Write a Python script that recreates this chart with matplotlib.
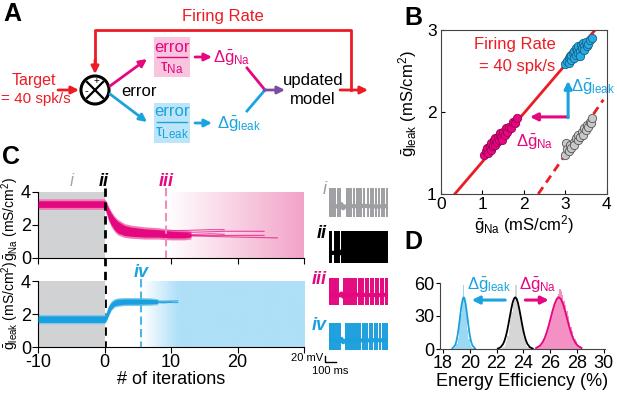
import numpy as np
import matplotlib
matplotlib.use('Agg')
import matplotlib.pyplot as plt
from matplotlib import font_manager
from matplotlib.colors import LinearSegmentedColormap
from matplotlib.patches import Rectangle, Circle

names = {f.name for f in font_manager.fontManager.ttflist}
FONT = 'Liberation Sans Narrow' if 'Liberation Sans Narrow' in names else 'Liberation Sans'
plt.rcParams['font.family'] = [FONT, 'DejaVu Sans']
plt.rcParams['mathtext.fontset'] = 'custom'
plt.rcParams['mathtext.rm'] = FONT
plt.rcParams['mathtext.it'] = FONT + ':italic'
plt.rcParams['mathtext.default'] = 'regular'

MAG = '#e5077f'
CYAN = '#1aa3df'
RED = '#ec1c24'
PURPLE = '#7b4f9e'
GREY = '#a7a9ac'

# ---- panel B: conductance clouds (gNa, gleak) ----
na_x = [1.05, 1.1, 1.12, 1.15, 1.18, 1.2, 1.22, 1.25, 1.28, 1.3, 1.32, 1.35, 1.38, 1.4,
        1.42, 1.45, 1.48, 1.5, 1.55, 1.58, 1.6, 1.65, 1.7, 1.75, 1.8, 1.85]
na_y = [1.48, 1.52, 1.56, 1.5, 1.58, 1.54, 1.62, 1.58, 1.66, 1.6, 1.68, 1.64, 1.7, 1.66,
        1.74, 1.7, 1.66, 1.76, 1.72, 1.8, 1.76, 1.82, 1.8, 1.88, 1.86, 1.93]
leak_x = [3.0, 3.05, 3.08, 3.1, 3.12, 3.15, 3.15, 3.18, 3.2, 3.22, 3.25, 3.25, 3.28, 3.3,
          3.32, 3.35, 3.35, 3.38, 3.4, 3.42, 3.45, 3.45, 3.5, 3.52, 3.55, 3.6, 3.65]
leak_y = [2.58, 2.62, 2.66, 2.6, 2.68, 2.64, 2.7, 2.72, 2.66, 2.74, 2.7, 2.78, 2.76, 2.72,
          2.8, 2.75, 2.68, 2.82, 2.78, 2.84, 2.8, 2.76, 2.85, 2.8, 2.83, 2.88, 2.9]
start_x = [3.0, 3.02, 3.05, 3.1, 3.12, 3.15, 3.2, 3.22, 3.25, 3.3, 3.32, 3.35, 3.4, 3.42,
           3.45, 3.5, 3.52, 3.55, 3.6, 3.62, 3.65]
start_y = [1.48, 1.62, 1.55, 1.52, 1.6, 1.56, 1.64, 1.6, 1.68, 1.66, 1.72, 1.7, 1.76, 1.72,
           1.8, 1.78, 1.84, 1.82, 1.88, 1.86, 1.93]
fr_x = [0.34, 3.72]
fr_y = [1.0, 3.0]
fr0_x = [2.35, 3.92]
fr0_y = [1.0, 2.15]

# ---- panel C: conductance vs iteration ----
it_na = [-10, 0, 0.3, 0.6, 1, 1.5, 2, 3, 4, 6, 8, 10, 12, 13]
na_lo = [3.05, 3.05, 2.75, 2.35, 2.0, 1.7, 1.5, 1.35, 1.3, 1.25, 1.25, 1.2, 1.2, 1.25]
na_hi = [3.45, 3.45, 3.3, 3.0, 2.7, 2.4, 2.2, 1.95, 1.85, 1.75, 1.7, 1.6, 1.55, 1.5]
na_tails = [([10, 14, 18, 24], [1.5, 1.55, 1.6, 1.6]),
            ([10, 15, 20, 26], [1.35, 1.3, 1.25, 1.2]),
            ([10, 14, 18, 24], [1.3, 1.35, 1.35, 1.35]),
            ([8, 12, 16, 18], [1.6, 1.65, 1.7, 1.7]),
            ([10, 13, 16, 18], [1.45, 1.4, 1.45, 1.42])]
it_leak = [-10, 0, 0.3, 0.6, 1, 1.5, 2, 3, 5, 7, 8]
leak_lo = [1.5, 1.5, 1.65, 1.95, 2.3, 2.5, 2.55, 2.6, 2.6, 2.62, 2.65]
leak_hi = [1.9, 1.9, 2.1, 2.45, 2.7, 2.85, 2.9, 2.92, 2.92, 2.9, 2.85]
leak_tails = [([7, 9, 11], [2.75, 2.72, 2.7]),
              ([7, 9, 11], [2.8, 2.78, 2.8]),
              ([7, 9, 10], [2.7, 2.68, 2.72])]
it_ticks = [-10, 0, 10, 20, 30]
it_ticklabels = ['-10', '0', '10', '20', '']

# ---- example voltage traces (spike times, ms) ----
spikes_i = [8, 22, 40, 55, 75, 92, 150, 170, 190, 212, 235, 255, 275, 300, 330, 352, 375,
            398, 420, 445, 470, 492]
spikes_ii = [4, 12, 20, 52, 60, 68, 76, 84, 110, 118, 126, 134, 142, 150, 158, 166, 174,
             182, 190, 198, 206, 214, 222, 230, 238, 246, 254, 262, 270, 278, 286, 294,
             302, 310, 318, 326, 334, 342, 350, 358, 366, 374, 382, 390, 398, 406, 414,
             422, 430, 438, 446, 454, 462, 470, 478, 486, 494]
spikes_iii = [5, 20, 35, 48, 62, 80, 130, 145, 160, 178, 195, 215, 232, 250, 268, 290, 310,
              330, 355, 375, 395, 415, 438, 460, 480, 495]
spikes_iv = [5, 18, 32, 46, 60, 75, 92, 140, 158, 175, 192, 210, 228, 246, 265, 285, 305,
             325, 348, 368, 390, 410, 432, 455, 475, 495]
base_t = [0, 50, 90, 105, 120, 135, 200, 300, 400, 500]
base_i = [-40, -38, -42, -32, -46, -40, -39, -38, -40, -39]
base_ii = [-45, -44, -46, -40, -48, -45, -44, -45, -44, -45]
base_iii = [-40, -39, -41, -34, -45, -40, -38, -39, -40, -38]
base_iv = [-42, -40, -43, -35, -47, -42, -40, -41, -40, -41]

# ---- panel D: energy efficiency histograms (%) ----
bins_leak = np.round(np.arange(18.8, 20.35, 0.1), 2)
cnt_leak = [1, 2, 5, 10, 20, 32, 46, 58, 44, 30, 17, 9, 4, 2, 1, 1]
bins_ctrl = np.round(np.arange(22.4, 24.45, 0.1), 2)
cnt_ctrl = [1, 2, 4, 7, 12, 18, 26, 34, 41, 46, 58, 45, 40, 33, 25, 17, 11, 6, 3, 2, 1]
bins_na = np.round(np.arange(25.0, 28.35, 0.1), 2)
cnt_na = [1, 2, 3, 4, 6, 9, 12, 15, 19, 24, 28, 33, 37, 41, 44, 48, 50, 55, 53, 49, 44, 40,
          35, 30, 25, 20, 16, 12, 9, 7, 5, 3, 3, 2]
fit_leak_x = [18.7, 18.9, 19.0, 19.1, 19.2, 19.3, 19.4, 19.5, 19.55, 19.6, 19.7, 19.8, 19.9,
              20.0, 20.1, 20.2, 20.4]
fit_leak_y = [0.5, 3.2, 6.8, 12.9, 21.5, 31.5, 40.7, 46.3, 47, 46.3, 40.7, 31.5, 21.5, 12.9,
              6.8, 3.2, 0.5]
fit_ctrl_x = [22.1, 22.3, 22.5, 22.6, 22.7, 22.8, 22.9, 23.0, 23.1, 23.2, 23.3, 23.4, 23.5,
              23.6, 23.7, 23.8, 23.9, 24.0, 24.1, 24.2, 24.3, 24.5, 24.7]
fit_ctrl_y = [0.4, 1.5, 4.7, 7.7, 11.7, 16.9, 23.1, 29.9, 36.4, 42.0, 45.7, 47, 45.7, 42.0,
              36.4, 29.9, 23.1, 16.9, 11.7, 7.7, 4.7, 1.5, 0.4]
fit_na_x = [24.95, 25.25, 25.45, 25.6, 25.75, 25.9, 26.05, 26.2, 26.35, 26.5, 26.65, 26.8,
            26.95, 27.1, 27.25, 27.4, 27.55, 27.7, 27.85, 28.05, 28.35]
fit_na_y = [0.85, 3.1, 6.4, 10.2, 15.3, 21.5, 28.5, 35.5, 41.5, 45.6, 47, 45.6, 41.5, 35.5,
            28.5, 21.5, 15.3, 10.2, 6.4, 3.1, 0.85]

W, H = 617, 393
fig = plt.figure(figsize=(W / 100, H / 100), dpi=100)


def px_axes(l, t, r, b):
    return fig.add_axes([l / W, 1 - b / H, (r - l) / W, (b - t) / H])


# overlay in pixel coordinates for the schematic and panel letters
ov = fig.add_axes([0, 0, 1, 1])
ov.set_xlim(0, W)
ov.set_ylim(H, 0)
ov.axis('off')

for lab, x, y in [('A', 3, 14), ('B', 404, 18), ('C', 2, 157), ('D', 404, 242)]:
    ov.text(x, y, lab, fontsize=18, fontweight='bold', va='center', ha='left')


def arrow(p0, p1, c, lw=2):
    ov.annotate('', xy=p1, xytext=p0,
                arrowprops=dict(arrowstyle='-|>', color=c, lw=lw, mutation_scale=11,
                                shrinkA=0, shrinkB=0))


# panel A schematic
ov.text(223, 17, 'Firing Rate', color=RED, fontsize=12, ha='center', va='center')
ov.plot([95, 95, 351, 351], [62, 30, 30, 90], color=RED, lw=2)
arrow((95, 60), (95, 74), RED)
arrow((340, 90), (368, 90), RED)
ov.text(34, 81, 'Target', color=RED, fontsize=11.5, ha='center', va='center')
ov.text(1, 99, '= 40 spk/s', color=RED, fontsize=11, ha='left', va='center')
arrow((58, 90), (79, 90), RED)
ov.add_patch(Circle((95, 90), 14, fill=False, ec='k', lw=2.2))
ov.plot([87, 103], [82, 98], color='k', lw=1.6)
ov.plot([87, 103], [98, 82], color='k', lw=1.6)
ov.text(96, 81, '+', fontsize=7, ha='center', va='center')
ov.text(86, 91, '-', fontsize=8, ha='center', va='center')
ov.text(121, 91, 'error', fontsize=12, ha='left', va='center')
arrow((110, 86), (147, 59), MAG)
arrow((110, 94), (147, 122), CYAN)
ov.add_patch(Rectangle((154, 37), 36, 40, color='#f9c5de', lw=0))
ov.text(172, 47, 'error', color=MAG, fontsize=12, ha='center', va='center')
ov.plot([157, 187], [57, 57], color=MAG, lw=1)
ov.text(172, 68, r'$τ_{Na}$', color=MAG, fontsize=12, ha='center', va='center')
ov.add_patch(Rectangle((154, 103), 36, 40, color='#bde5f8', lw=0))
ov.text(172, 112, 'error', color=CYAN, fontsize=12, ha='center', va='center')
ov.plot([157, 187], [122, 122], color=CYAN, lw=1)
ov.text(172, 133, r'$τ_{Leak}$', color=CYAN, fontsize=12, ha='center', va='center')
arrow((195, 57), (212, 57), MAG)
arrow((195, 123), (212, 123), CYAN)
ov.text(213, 58, r'$\Delta\bar{g}_{Na}$', color=MAG, fontsize=12, ha='left', va='center')
ov.text(217, 124, r'$\Delta\bar{g}_{leak}$', color=CYAN, fontsize=12, ha='left', va='center')
ov.plot([247, 265], [68, 90], color=MAG, lw=2)
ov.plot([247, 265], [111, 90], color=CYAN, lw=2)
arrow((264, 90), (285, 90), PURPLE)
ov.text(313, 80, 'updated', fontsize=12, ha='center', va='center')
ov.text(313, 100, 'model', fontsize=12, ha='center', va='center')

# panel B
axb = px_axes(440.7, 30, 606.7, 194)
axb.set_facecolor('none')
axb.plot(fr_x, fr_y, color=RED, lw=2, zorder=1)
axb.plot(fr0_x, fr0_y, color=RED, lw=2, ls=(0, (3, 2)), zorder=1)
axb.scatter(na_x, na_y, s=36, c=MAG, edgecolors='#9c0052', linewidths=0.6, zorder=3)
axb.scatter(leak_x, leak_y, s=36, c='#29abe2', edgecolors='#14628a', linewidths=0.6, zorder=3)
axb.scatter(start_x, start_y, s=36, c='#c8c8c8', edgecolors='#555555', linewidths=0.6, zorder=3)
axb.annotate('', xy=(2.15, 1.94), xytext=(3.07, 1.94),
             arrowprops=dict(arrowstyle='-|>', color=MAG, lw=2.2, mutation_scale=11,
                             shrinkA=0, shrinkB=0))
axb.annotate('', xy=(3.07, 2.38), xytext=(3.07, 1.93),
             arrowprops=dict(arrowstyle='-|>', color=CYAN, lw=2.2, mutation_scale=11,
                             shrinkA=0, shrinkB=0))
axb.text(3.13, 2.3, r'$\Delta\bar{g}_{leak}$', color=CYAN, fontsize=12, va='center')
axb.text(2.27, 1.63, r'$\Delta\bar{g}_{Na}$', color=MAG, fontsize=12, ha='center', va='center')
axb.text(1.79, 2.82, 'Firing Rate', color=RED, fontsize=12, ha='center', va='center')
axb.text(1.84, 2.55, '= 40 spk/s', color=RED, fontsize=12, ha='center', va='center')
axb.set_xlim(0, 4)
axb.set_ylim(1, 3)
axb.set_xticks([0, 1, 2, 3, 4])
axb.set_yticks([1, 2, 3])
axb.tick_params(direction='in', length=3, labelsize=12.5, pad=2)
axb.tick_params(axis='y', pad=3)
for s in axb.spines.values():
    s.set_color('#444444')
axb.set_xlabel(r'$\bar{g}_{Na}$ (mS/cm$^2$)', fontsize=12, labelpad=1)
axb.set_ylabel(r'$\bar{g}_{leak}$ (mS/cm$^2$)', fontsize=12, labelpad=2)
axb.yaxis.set_label_coords(-0.13, 0.55)

# panel C
pink_cm = LinearSegmentedColormap.from_list('pk', ['#ffffff', '#f2a3c8'])
blue_cm = LinearSegmentedColormap.from_list('bl', ['#ffffff', '#aee0f7'])
ramp = np.linspace(0, 1, 256)[None, :]
blue_ramp = np.clip(np.linspace(0, 1, 256) * 4.5, 0, 1)[None, :]

axc1 = px_axes(38, 191.7, 304, 257.7)
axc2 = px_axes(38, 281, 304, 347.3)
for ax in (axc1, axc2):
    ax.set_facecolor('none')
    ax.add_patch(Rectangle((-10, 0), 10, 4, color='#d1d2d4', lw=0, zorder=0))
    ax.set_xlim(-10, 30)
    ax.set_ylim(0, 4)
    ax.set_xticks(it_ticks)
    ax.set_yticks([0, 2, 4])
    ax.tick_params(direction='out', length=4, labelsize=13, pad=1)
    ax.spines['top'].set_visible(False)
    ax.spines['right'].set_visible(False)

axc1.imshow(ramp, cmap=pink_cm, extent=[9.3, 30, 0, 4], aspect='auto', zorder=0)
axc2.imshow(blue_ramp, cmap=blue_cm, extent=[5.6, 30, 0, 4], aspect='auto', zorder=0)

axc1.fill_between(it_na, np.array(na_lo) - 0.12, np.array(na_hi) + 0.12, color='#f07ab4',
                  lw=0, zorder=2)
axc1.fill_between(it_na, na_lo, na_hi, color=MAG, lw=0, zorder=3)
for tx, ty in na_tails:
    axc1.plot(tx, ty, color=MAG, lw=0.8, alpha=0.7, zorder=3)
axc2.fill_between(it_leak, np.array(leak_lo) - 0.08, np.array(leak_hi) + 0.08, color='#7dc9ee',
                  lw=0, zorder=2)
axc2.fill_between(it_leak, leak_lo, leak_hi, color='#1ba0de', lw=0, zorder=3)
for tx, ty in leak_tails:
    axc2.plot(tx, ty, color='#1ba0de', lw=0.9, alpha=0.8, zorder=3)

axc1.plot([0, 0], [4.25, -5.43], color='k', lw=2, ls=(0, (3, 2)), clip_on=False, zorder=5)
axc1.plot([9.2, 9.2], [4.25, 0], color='#f28cbd', lw=1.5, ls=(0, (4, 2)), clip_on=False,
          zorder=4)
axc2.plot([5.5, 5.5], [4.15, 0], color='#4db8e8', lw=1.5, ls=(0, (4, 2)), clip_on=False,
          zorder=4)
axc1.text(-5, 4.6, 'i', color=GREY, fontsize=13, style='italic', ha='center', va='center')
axc1.text(-0.1, 4.6, 'ii', color='k', fontsize=13, style='italic', fontweight='bold',
          ha='center', va='center')
axc1.text(9.3, 4.6, 'iii', color=MAG, fontsize=13, style='italic', fontweight='bold',
          ha='center', va='center')
axc2.text(5.5, 4.5, 'iv', color=CYAN, fontsize=13, style='italic', fontweight='bold',
          ha='center', va='center')
axc1.set_xticklabels([])
axc2.set_xticklabels(it_ticklabels)
axc2.set_xlabel('# of iterations', fontsize=13, labelpad=0)
axc1.set_ylabel(r'$\bar{g}_{Na}$ (mS/cm$^2$)', fontsize=10)
axc2.set_ylabel(r'$\bar{g}_{leak}$ (mS/cm$^2$)', fontsize=10)
axc1.yaxis.set_label_coords(-0.065, 0.58)
axc2.yaxis.set_label_coords(-0.065, 0.64)

# voltage traces
traces = [(187, 217, spikes_i, base_i, '#9d9fa2', 'i', 'normal'),
          (230, 263, spikes_ii, base_ii, 'k', 'ii', 'bold'),
          (277, 305, spikes_iii, base_iii, MAG, 'iii', 'bold'),
          (322, 350, spikes_iv, base_iv, '#1ba0de', 'iv', 'bold')]
for top, bot, spk, base, col, lab, wt in traces:
    ax = px_axes(329, top, 388, bot)
    ax.axis('off')
    ax.vlines(spk, -74, 23, color=col, lw=1.4)
    ax.plot(base_t, base, color=col, lw=3)
    ax.set_xlim(0, 500)
    ax.set_ylim(-75, 25)
    ov.text(327, top + 3, lab, color=col, fontsize=13, style='italic', fontweight=wt,
            ha='right', va='center')
    trace_ax = ax
trace_ax.plot([-38, -38, 62], [-97, -117, -117], color='k', lw=1, clip_on=False)
ov.text(323, 358, '20 mV', fontsize=8, ha='right', va='center')
ov.text(330, 371, '100 ms', fontsize=8, ha='center', va='center')

# panel D
axd = px_axes(440, 283, 605, 349)
axd.set_facecolor('none')
axd.bar(bins_leak, cnt_leak, width=0.1, align='edge', color='#9ad8f4', lw=0)
axd.bar(bins_ctrl, cnt_ctrl, width=0.1, align='edge', color='#d6d6d6', lw=0)
axd.bar(bins_na, cnt_na, width=0.1, align='edge', color='#f590c4', lw=0)
axd.plot(fit_leak_x, fit_leak_y, color='#1ba0de', lw=1.3)
axd.plot(fit_ctrl_x, fit_ctrl_y, color='k', lw=1.3)
axd.plot(fit_na_x, fit_na_y, color=MAG, lw=1.3)
axd.annotate('', xy=(20.15, 44.5), xytext=(22.65, 44.5),
             arrowprops=dict(arrowstyle='-|>', color=CYAN, lw=2.2, mutation_scale=11,
                             shrinkA=0, shrinkB=0))
axd.annotate('', xy=(25.9, 44.5), xytext=(24.15, 44.5),
             arrowprops=dict(arrowstyle='-|>', color=MAG, lw=2.2, mutation_scale=11,
                             shrinkA=0, shrinkB=0))
axd.text(21.45, 58, r'$\Delta\bar{g}_{leak}$', color=CYAN, fontsize=12, ha='center',
         va='center')
axd.text(25.1, 58, r'$\Delta\bar{g}_{Na}$', color=MAG, fontsize=12, ha='center', va='center')
axd.set_xlim(17.78, 30.1)
axd.set_ylim(0, 60)
axd.set_xticks([18, 20, 22, 24, 26, 28, 30])
axd.set_yticks([0, 30, 60])
axd.tick_params(direction='out', length=3, labelsize=13, pad=1)
axd.spines['top'].set_visible(False)
axd.spines['right'].set_visible(False)
axd.spines['left'].set_color('#444444')
axd.spines['bottom'].set_color('#444444')
axd.set_xlabel('Energy Efficiency (%)', fontsize=13, labelpad=1)

fig.savefig('out.png', dpi=100)
